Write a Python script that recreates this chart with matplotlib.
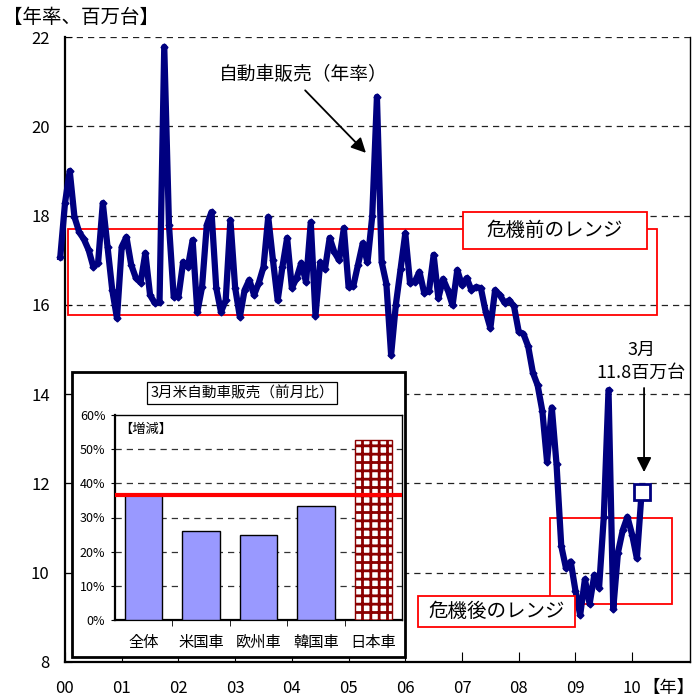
import matplotlib.pyplot as plt
import numpy as np
from matplotlib.patches import Rectangle

plt.rcParams['font.family'] = ['Noto Sans CJK JP', 'DejaVu Sans']
plt.rcParams['hatch.linewidth'] = 2.0

# US light vehicle sales, seasonally adjusted annual rate (million units)
sales_1999 = [17.07]  # Dec
sales_2000 = [18.28, 19.0, 17.97, 17.63, 17.47, 17.23, 16.85, 16.94, 18.28, 17.3, 16.33, 15.7]
sales_2001 = [17.3, 17.52, 16.9, 16.6, 16.5, 17.16, 16.22, 16.04, 16.06, 21.78, 17.79, 16.18]
sales_2002 = [16.18, 16.96, 16.85, 17.45, 15.84, 16.4, 17.79, 18.08, 16.38, 15.84, 16.1, 17.9]
sales_2003 = [16.38, 15.73, 16.33, 16.56, 16.22, 16.49, 16.85, 17.97, 17.0, 16.1, 16.85, 17.5]
sales_2004 = [16.38, 16.6, 16.94, 16.51, 17.85, 15.76, 16.95, 16.8, 17.5, 17.18, 17.0, 17.72]
sales_2005 = [16.4, 16.42, 16.9, 17.38, 16.95, 17.98, 20.66, 16.96, 16.47, 14.88, 16.0, 16.8]
sales_2006 = [17.6, 16.49, 16.52, 16.74, 16.27, 16.3, 17.12, 16.15, 16.58, 16.33, 15.99, 16.78]
sales_2007 = [16.44, 16.6, 16.33, 16.4, 16.37, 15.85, 15.48, 16.33, 16.22, 16.05, 16.1, 15.97]
sales_2008 = [15.4, 15.35, 15.07, 14.48, 14.2, 13.62, 12.48, 13.7, 12.43, 10.6, 10.1, 10.25]
sales_2009 = [9.6, 9.05, 9.85, 9.3, 9.95, 9.66, 11.25, 14.09, 9.19, 10.45, 10.95, 11.25]
sales_2010 = [10.85, 10.32, 11.8]

sales = np.array(sales_1999 + sales_2000 + sales_2001 + sales_2002 + sales_2003 + sales_2004
                 + sales_2005 + sales_2006 + sales_2007 + sales_2008 + sales_2009 + sales_2010)
t = (np.arange(len(sales)) - 1) / 12.0  # years since Jan 2000

year_ticks = list(range(11))
year_labels = ['%02d' % y for y in year_ticks]

# March change vs previous month, by maker group
categories = ['全体', '米国車', '欧州車', '韓国車', '日本車']
mom_change = [36.6, 26.1, 24.9, 33.5, 52.7]

navy = '#000080'

fig = plt.figure(figsize=(6.95, 6.97), dpi=100)
ax = fig.add_axes([65 / 695, 1 - 662 / 697, 625 / 695, 625 / 697])
ax.set_zorder(0)
ax.set_xlim(0, 11.02)
ax.set_ylim(8, 22)

for y in range(10, 23, 2):
    ax.axhline(y, color='#222222', lw=0.9, ls=(0, (5, 4)), zorder=1)

# ranges before / after the crisis
ax.add_patch(Rectangle((0.05, 15.77), 10.39, 1.93, fill=False, ec='red', lw=1.3, zorder=2))
ax.add_patch(Rectangle((8.55, 9.30), 2.16, 1.92, fill=False, ec='red', lw=1.3, zorder=2))

ax.plot(t, sales, color=navy, lw=4.5, marker='D', ms=3.5, solid_joinstyle='round',
        clip_on=False, zorder=3)
ax.plot(t[-1], sales[-1], marker='s', ms=12, mfc='white', mec=navy, mew=2,
        linestyle='none', zorder=4)

# label boxes
ax.add_patch(Rectangle((7.02, 17.25), 3.24, 0.83, fc='white', ec='red', lw=1.3, zorder=5))
ax.text(8.64, 17.66, '危機前のレンジ', ha='center', va='center', fontsize=14, zorder=6)
ax.add_patch(Rectangle((6.23, 8.78), 2.76, 0.70, fc='white', ec='red', lw=1.3, zorder=5))
ax.text(7.61, 9.13, '危機後のレンジ', ha='center', va='center', fontsize=14, zorder=6)

ax.text(4.2, 21.15, '自動車販売（年率）', ha='center', va='center', fontsize=13.5)
ax.annotate('', xy=(5.34, 19.36), xytext=(4.2, 20.85),
            arrowprops=dict(arrowstyle='-|>', color='black', lw=1.3, mutation_scale=22))

ax.text(10.16, 14.99, '3月', ha='center', va='center', fontsize=13)
ax.text(10.16, 14.47, '11.8百万台', ha='center', va='center', fontsize=13)
ax.annotate('', xy=(10.21, 12.19), xytext=(10.21, 14.2),
            arrowprops=dict(arrowstyle='-|>', color='black', lw=1.3, mutation_scale=22))

ax.spines['top'].set_visible(False)
ax.spines['left'].set_linewidth(1.6)
ax.spines['bottom'].set_linewidth(1.6)
ax.spines['right'].set_linewidth(1.0)
ax.set_yticks(range(8, 23, 2))
ax.tick_params(axis='y', direction='in', length=5, labelsize=12, pad=11)
ax.set_xticks(year_ticks)
ax.set_xticklabels(year_labels)
ax.tick_params(axis='x', direction='in', length=7, labelsize=12, pad=13)

fig.text(3 / 695, 1 - 17 / 697, '【年率、百万台】', ha='left', va='center', fontsize=14)
fig.text(695 / 695, 1 - 688 / 697, '【年】', ha='right', va='center', fontsize=12.5)

# inset: March month-on-month change
fig.add_artist(Rectangle((72 / 695, 1 - 657 / 697), 333 / 695, 285 / 697,
                         transform=fig.transFigure, fc='white', ec='black', lw=2, zorder=1))
iax = fig.add_axes([115 / 695, 1 - 620 / 697, 287 / 695, 205 / 697])
iax.set_zorder(2)
pos = np.arange(len(categories))
bars = iax.bar(pos, mom_change, width=0.655, color='#9999FF', edgecolor='black', lw=1, zorder=3)
bars[-1].set_facecolor('white')
bars[-1].set_edgecolor('#8B0000')
bars[-1].set_hatch('++')
iax.set_xlim(-0.5, 4.5)
iax.set_ylim(0, 60)
for y in range(10, 60, 10):
    iax.axhline(y, color='#333333', lw=0.9, ls=(0, (5, 4)), zorder=1)
iax.axhline(mom_change[0], color='red', lw=3, zorder=4)
iax.set_yticks(range(0, 61, 10))
iax.set_yticklabels(['%d%%' % v for v in range(0, 61, 10)])
iax.tick_params(axis='y', direction='out', length=3, labelsize=9, pad=4)
iax.set_xticks(pos)
iax.set_xticklabels(categories)
iax.set_xticks(pos[:-1] + 0.5, minor=True)
iax.tick_params(axis='x', which='major', length=0, labelsize=11, pad=10)
iax.tick_params(axis='x', which='minor', direction='out', length=4)
for s in iax.spines.values():
    s.set_linewidth(1.0)
iax.spines['left'].set_linewidth(1.6)
iax.spines['bottom'].set_linewidth(1.6)
iax.text(0.108, 0.927, '【増減】', transform=iax.transAxes, ha='center', va='center', fontsize=9.5)

fig.text(242 / 695, 1 - 393 / 697, '3月米自動車販売（前月比）', ha='center', va='center',
         fontsize=10.5, zorder=3,
         bbox=dict(boxstyle='square,pad=0.25', fc='white', ec='black', lw=0.9))

fig.savefig('out.png', dpi=100)
